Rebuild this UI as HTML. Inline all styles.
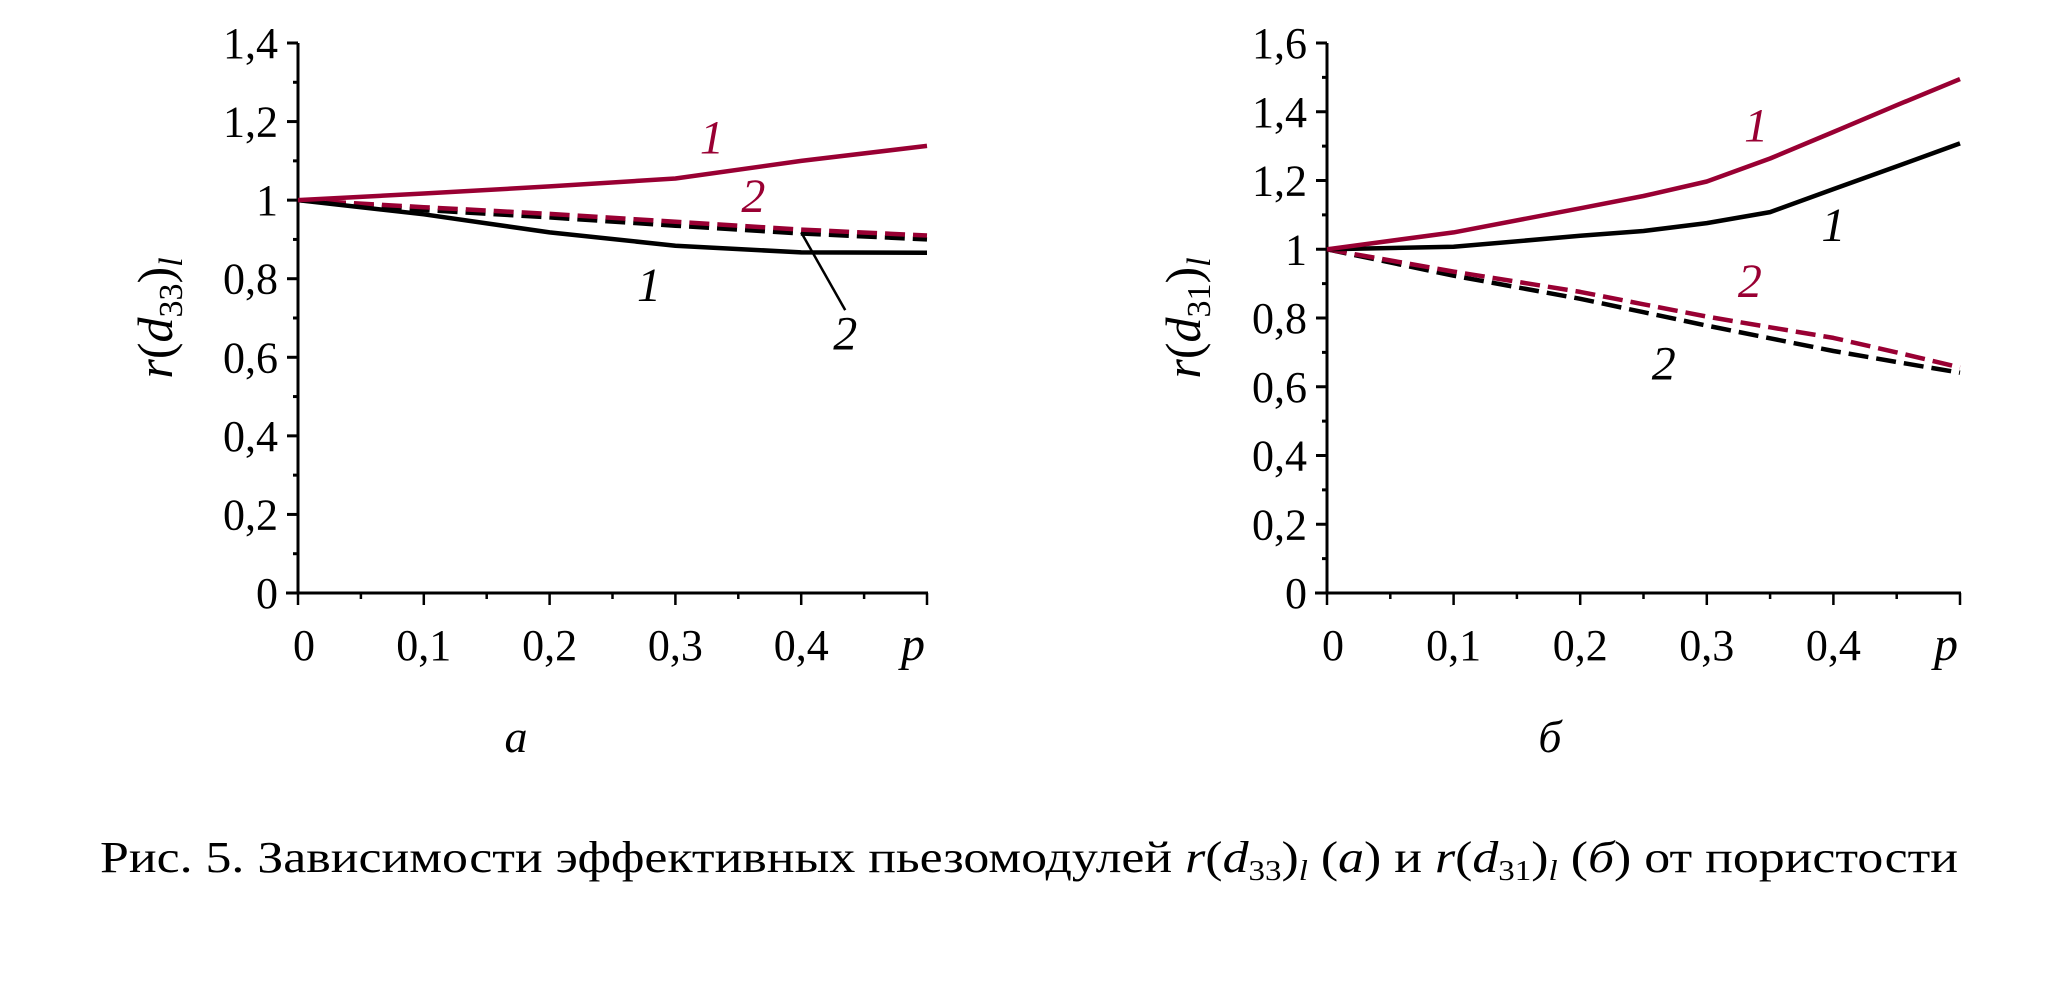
<!DOCTYPE html>
<html><head><meta charset="utf-8"><style>
html,body{margin:0;padding:0;background:#fff;}
svg{display:block;font-family:"Liberation Serif",serif;}
</style></head><body>
<svg id="fig" width="2060" height="1002" viewBox="0 0 2060 1002" xmlns="http://www.w3.org/2000/svg">
<rect width="2060" height="1002" fill="#fff"/>
<g id="chartA"></g>
<g id="chartB"></g>
<text x="516" y="752" font-size="46" font-style="italic" text-anchor="middle">а</text>
<text x="1550" y="752" font-size="46" font-style="italic" text-anchor="middle">б</text>
<text x="100" y="872" font-size="44" textLength="1858" lengthAdjust="spacingAndGlyphs">Рис. 5. Зависимости эффективных пьезомодулей <tspan font-style="italic">r</tspan>(<tspan font-style="italic">d</tspan><tspan font-size="28" dy="8">33</tspan><tspan dy="-8">)</tspan><tspan font-size="28" font-style="italic" dy="8">l</tspan><tspan dy="-8"> (</tspan><tspan font-style="italic">а</tspan>) и <tspan font-style="italic">r</tspan>(<tspan font-style="italic">d</tspan><tspan font-size="28" dy="8">31</tspan><tspan dy="-8">)</tspan><tspan font-size="28" font-style="italic" dy="8">l</tspan><tspan dy="-8"> (</tspan><tspan font-style="italic">б</tspan>) от пористости</text>
</svg>
<script>
const NS="http://www.w3.org/2000/svg";
// shared x data
const pValues=[0,0.1,0.2,0.3,0.4,0.5];
const xTickLabels=["0","0,1","0,2","0,3","0,4"];
// chart A data
const aYTicks=[0,0.2,0.4,0.6,0.8,1,1.2,1.4];
const aYTickLabels=["0","0,2","0,4","0,6","0,8","1","1,2","1,4"];
const aRed1=[1.0,1.017,1.035,1.055,1.10,1.138];
const aBlack1=[1.0,0.964,0.918,0.884,0.867,0.866];
const aRed2=[1.0,0.982,0.965,0.945,0.925,0.91];
const aBlack2=[1.0,0.975,0.956,0.935,0.915,0.90];
// chart B data
const bYTicks=[0,0.2,0.4,0.6,0.8,1,1.2,1.4,1.6];
const bYTickLabels=["0","0,2","0,4","0,6","0,8","1","1,2","1,4","1,6"];
const bPValues=[0,0.1,0.2,0.25,0.3,0.35,0.4,0.45,0.5];
const bRed1=[1.0,1.049,1.119,1.155,1.197,1.264,1.341,1.419,1.495];
const bBlack1=[1.0,1.007,1.039,1.053,1.076,1.108,1.175,1.241,1.308];
const bRed2=[1.0,0.935,0.876,0.84,0.804,0.773,0.742,0.70,0.656];
const bBlack2=[1.0,0.923,0.856,0.817,0.778,0.741,0.704,0.672,0.641];

const RED="#990033";
function mk(tag,attrs,parent){const e=document.createElementNS(NS,tag);for(const k in attrs)e.setAttribute(k,attrs[k]);parent.appendChild(e);return e;}

function drawChart(g,cfg){
  const X=p=>cfg.x0+(p/0.5)*(cfg.x1-cfg.x0);
  const Y=v=>cfg.y0-(v/cfg.ymax)*(cfg.y0-cfg.ytop);
  // axes
  const ax=mk("line",{x1:X(0),y1:Y(cfg.ymax),x2:X(0),y2:Y(0)+1,stroke:"#000","stroke-width":3},g);
  
  
  const axx=mk("line",{x1:X(0)-12,y1:Y(0),x2:X(0.5)+1,y2:Y(0),stroke:"#000","stroke-width":3},g);
  
  
  // y ticks
  for(let v=0;v<=cfg.ymax+1e-9;v+=0.1){
    const major=Math.round(v*10)%2===0;
    const t=mk("line",{x1:X(0)-(major?11:5),y1:Y(v),x2:X(0),y2:Y(v),stroke:"#000","stroke-width":3},g);
    
    
  }
  cfg.yTicks.forEach((v,i)=>{
    const t=mk("text",{x:X(0)-20,y:Y(v)+15,"font-size":44,"text-anchor":"end"},g);
    t.textContent=cfg.yLabels[i];
    
    
  });
  // x ticks
  for(let p=0;p<=0.5+1e-9;p+=0.05){
    const major=Math.round(p*20)%2===0;
    const t=mk("line",{x1:X(p),y1:Y(0),x2:X(p),y2:Y(0)+(major?12:6),stroke:"#000","stroke-width":2.5},g);
    
    
  }
  xTickLabels.forEach((s,i)=>{
    const t=mk("text",{x:X(i*0.1)+(i===0?6:0),y:Y(0)+67,"font-size":44,"text-anchor":"middle"},g);
    t.textContent=s;
    
    
  });
  const pl=mk("text",{x:X(0.5)-14,y:Y(0)+67,"font-size":48,"font-style":"italic","text-anchor":"middle"},g);
  pl.textContent="p";
  
  
  // y title
  const yt=mk("text",{transform:`translate(${cfg.titleX},${cfg.titleY}) rotate(-90)`,"font-size":50,"text-anchor":"middle"},g);
  yt.innerHTML=`<tspan font-style="italic">r</tspan>(<tspan font-style="italic">d</tspan><tspan font-size="34" dy="10">${cfg.sub}</tspan><tspan dy="-10">)</tspan><tspan font-size="34" font-style="italic" dy="10">l</tspan>`;
  
  
  // series
  cfg.series.forEach(s=>{
    const d=s.vals.map((v,i)=>(i?"L":"M")+X(s.ps[i]).toFixed(1)+","+Y(v).toFixed(1)).join(" ");
    const attrs={d:d,fill:"none",stroke:s.color,"stroke-width":4.5,"stroke-linejoin":"round"};
    if(s.dash)attrs["stroke-dasharray"]="20,8";
    const path=mk("path",attrs,g);
    
    
  });
  cfg.labels.forEach(l=>{
    const t=mk("text",{x:X(l.p),y:Y(l.v)+16,"font-size":48,"font-style":"italic","text-anchor":"middle",fill:l.color},g);
    t.textContent=l.t;
    
    
  });
  if(cfg.leader){
    const L=cfg.leader;
    const ln=mk("line",{x1:X(L[0]),y1:Y(L[1]),x2:X(L[2]),y2:Y(L[3]),stroke:"#000","stroke-width":2.5},g);
    
    
  }
}

drawChart(document.getElementById("chartA"),{
  x0:298,x1:927,y0:593,ytop:43,ymax:1.4,yTicks:aYTicks,yLabels:aYTickLabels,
  titleX:172,titleY:318,sub:"33",
  series:[
    {vals:aBlack2,ps:pValues,color:"#000",dash:true,name:"series-2-black-dashed"},
    {vals:aRed2,ps:pValues,color:RED,dash:true,name:"series-2-red-dashed"},
    {vals:aBlack1,ps:pValues,color:"#000",dash:false,name:"series-1-black"},
    {vals:aRed1,ps:pValues,color:RED,dash:false,name:"series-1-red"}],
  labels:[
    {t:"1",p:0.329,v:1.16,color:RED,name:"label-1-red"},
    {t:"2",p:0.362,v:1.01,color:RED,name:"label-2-red"},
    {t:"1",p:0.279,v:0.784,color:"#000",name:"label-1-black"},
    {t:"2",p:0.435,v:0.66,color:"#000",name:"label-2-black"}],
  leader:[0.40,0.918,0.435,0.72]
});
drawChart(document.getElementById("chartB"),{
  x0:1327,x1:1960,y0:593,ytop:43,ymax:1.6,yTicks:bYTicks,yLabels:bYTickLabels,
  titleX:1200,titleY:318,sub:"31",
  series:[
    {vals:bBlack2,ps:bPValues,color:"#000",dash:true,name:"series-2-black-dashed"},
    {vals:bRed2,ps:bPValues,color:RED,dash:true,name:"series-2-red-dashed"},
    {vals:bBlack1,ps:bPValues,color:"#000",dash:false,name:"series-1-black"},
    {vals:bRed1,ps:bPValues,color:RED,dash:false,name:"series-1-red"}],
  labels:[
    {t:"1",p:0.339,v:1.36,color:RED,name:"label-1-red"},
    {t:"1",p:0.40,v:1.07,color:"#000",name:"label-1-black"},
    {t:"2",p:0.334,v:0.908,color:RED,name:"label-2-red"},
    {t:"2",p:0.266,v:0.668,color:"#000",name:"label-2-black"}]
});
</script>
</body></html>
